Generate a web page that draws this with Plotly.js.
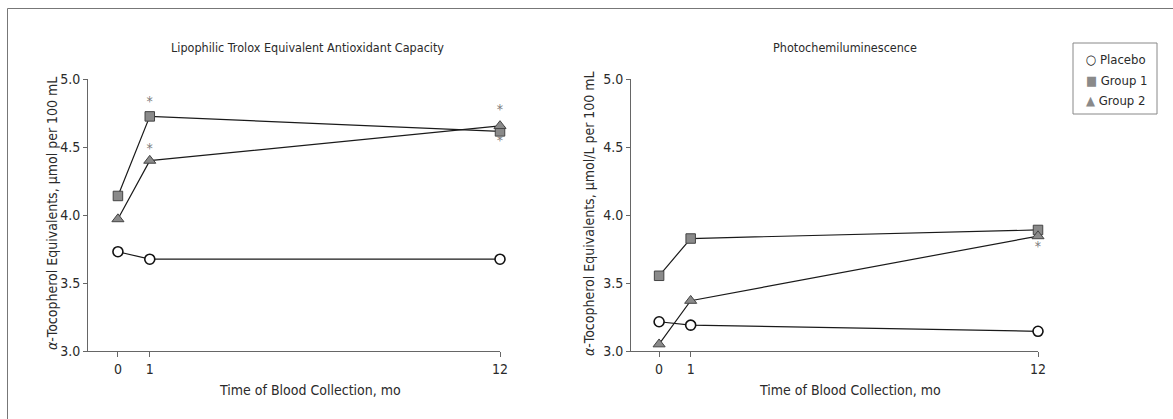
<!DOCTYPE html>
<html>
<head>
<meta charset="utf-8">
<script src="https://cdn.plot.ly/plotly-3.0.1.min.js"></script>
<style>html,body{margin:0;padding:0;background:#fff;}#chart{width:1173px;height:419px;}</style>
</head>
<body>
<div id="chart"></div>
<script>
// ---- data ----
const months = [0, 1, 12];
const monthLabels = ['0', '1', '12'];
const yTicks = [3.0, 3.5, 4.0, 4.5, 5.0];
const seriesNames = ['Placebo', 'Group 1', 'Group 2'];

// Lipophilic Trolox Equivalent Antioxidant Capacity
const lteacPlacebo = [3.73, 3.675, 3.675];
const lteacGroup1 = [4.14, 4.725, 4.615];
const lteacGroup2 = [3.97, 4.40, 4.655];
const lteacStarX = [1, 1, 12, 12];
const lteacStarY = [4.83, 4.48, 4.77, 4.54];

// Photochemiluminescence
const pclPlacebo = [3.215, 3.19, 3.145];
const pclGroup1 = [3.553, 3.827, 3.89];
const pclGroup2 = [3.05, 3.37, 3.845];
const pclStarX = [12];
const pclStarY = [3.76];

const panelTitles = ['Lipophilic Trolox Equivalent Antioxidant Capacity', 'Photochemiluminescence'];
const xTitle = 'Time of Blood Collection, mo';
const yTitles = ['<i>α</i>-Tocopherol Equivalents, µmol per 100 mL', '<i>α</i>-Tocopherol Equivalents, µmol/L per 100 mL'];

// ---- styling ----
const FONT = 'DejaVu Sans Condensed, Liberation Sans Narrow, sans-serif';
const TXT = '#2a2a2a';
const styles = [
  {symbol: 'circle', size: 10, fill: '#fff', edge: '#111', lw: 1.6},
  {symbol: 'square', size: 9.5, fill: '#8a8a8a', edge: '#444', lw: 1},
  {symbol: 'triangle-up', size: 10.5, fill: '#8a8a8a', edge: '#444', lw: 1}
];

function seriesTraces(ys, xa, ya) {
  const out = [];
  ys.forEach((y, i) => {
    const s = styles[i];
    out.push({
      x: months, y: y, xaxis: xa, yaxis: ya, type: 'scatter', mode: 'lines',
      line: {color: '#1a1a1a', width: 1.2}, showlegend: false, hoverinfo: 'skip', cliponaxis: false
    });
    out.push({
      x: months, y: y, xaxis: xa, yaxis: ya, type: 'scatter', mode: 'markers', name: seriesNames[i],
      cliponaxis: false, showlegend: false,
      marker: {symbol: s.symbol, size: s.size, color: s.fill, line: {color: s.edge, width: s.lw}}
    });
  });
  return out;
}
function starTrace(xs, ys, xa, ya) {
  return {
    x: xs, y: ys, xaxis: xa, yaxis: ya, type: 'scatter', mode: 'text',
    text: xs.map(() => '*'), textposition: 'middle center', cliponaxis: false,
    textfont: {family: FONT, size: 14, color: '#7a7a7a'}, showlegend: false, hoverinfo: 'skip'
  };
}

const data = [
  ...seriesTraces([lteacPlacebo, lteacGroup1, lteacGroup2], 'x', 'y'),
  starTrace(lteacStarX, lteacStarY, 'x', 'y'),
  ...seriesTraces([pclPlacebo, pclGroup1, pclGroup2], 'x2', 'y2'),
  starTrace(pclStarX, pclStarY, 'x2', 'y2')
];

const W = 1173, H = 419;
const px = v => v / W;
const py = v => (H - v) / H;

function xAxis(dom, rng, anchor) {
  return {
    domain: dom, range: rng, anchor: anchor, tickmode: 'array', tickvals: months, ticktext: monthLabels,
    showgrid: false, zeroline: false, showline: true, linecolor: '#666', linewidth: 1,
    ticks: 'outside', ticklen: 5, tickcolor: '#666', tickwidth: 1,
    tickfont: {family: FONT, size: 14, color: TXT}, fixedrange: true
  };
}
function yAxis(dom, anchor) {
  return {
    domain: dom, range: [3.0, 5.0], anchor: anchor, tickmode: 'array', tickvals: yTicks, tickformat: '.1f',
    showgrid: false, zeroline: false, showline: true, linecolor: '#666', linewidth: 1,
    ticks: 'outside', ticklen: 4, tickcolor: '#666', tickwidth: 1,
    tickfont: {family: FONT, size: 14, color: TXT}, fixedrange: true
  };
}

const yDom = [py(351), py(79)];
const titleFont = {family: FONT, size: 12.5, color: TXT};
const axFont = {family: FONT, size: 14, color: TXT};
const legFont = {family: FONT, size: 13, color: TXT};
function ann(x, y, text, font, extra) {
  return Object.assign({xref: 'paper', yref: 'paper', x: px(x), y: py(y), text: text, showarrow: false,
    xanchor: 'center', yanchor: 'middle', font: font}, extra || {});
}
const annotations = [
  ann(307, 47, panelTitles[0], titleFont),
  ann(845, 47, panelTitles[1], titleFont),
  ann(310, 390, xTitle, axFont),
  ann(850, 390, xTitle, axFont),
  ann(52, 214, yTitles[0], axFont, {textangle: -90}),
  ann(589, 214, yTitles[1], axFont, {textangle: -90}),
  // legend entries
  ann(1084, 60, '<span style="color:#111">○</span> ' + seriesNames[0], legFont, {xanchor: 'left'}),
  ann(1084, 80.5, '<span style="color:#8a8a8a">■</span> ' + seriesNames[1], legFont, {xanchor: 'left'}),
  ann(1084, 100.5, '<span style="color:#8a8a8a">▲</span> ' + seriesNames[2], legFont, {xanchor: 'left'})
];

const shapes = [
  {type: 'line', xref: 'paper', yref: 'paper', x0: px(7.5), x1: px(7.5), y0: 0, y1: py(8.5), line: {color: '#777', width: 1}},
  {type: 'line', xref: 'paper', yref: 'paper', x0: px(7.5), x1: 1, y0: py(8.5), y1: py(8.5), line: {color: '#777', width: 1}},
  {type: 'rect', xref: 'paper', yref: 'paper', x0: px(1073), x1: px(1157), y0: py(114), y1: py(43), line: {color: '#888', width: 1}}
];

const layout = {
  width: W, height: H, margin: {l: 0, r: 0, t: 0, b: 0},
  paper_bgcolor: '#fff', plot_bgcolor: 'rgba(0,0,0,0)', showlegend: false,
  font: {family: FONT, color: TXT},
  xaxis: xAxis([px(88), px(500)], [-0.94, 12], 'y'),
  yaxis: yAxis(yDom, 'x'),
  xaxis2: xAxis([px(631), px(1038)], [-0.89, 12], 'y2'),
  yaxis2: yAxis(yDom, 'x2'),
  annotations: annotations, shapes: shapes
};

Plotly.newPlot('chart', data, layout, {displayModeBar: false, staticPlot: true});
</script>
</body>
</html>
